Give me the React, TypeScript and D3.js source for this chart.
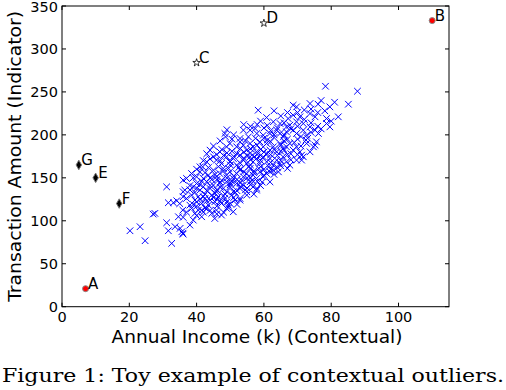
import React from 'react';
import * as d3 from 'd3';

const xTicks = [0, 20, 40, 60, 80, 100];
const yTicks = [0, 50, 100, 150, 200, 250, 300, 350];

const outlierNames = ['A', 'B', 'C', 'D', 'E', 'F', 'G'];
const outlierX = [7, 110, 40, 60, 10, 17, 5];
const outlierY = [21, 333, 284, 330, 150, 120, 165];
const outlierKind = ['circle', 'circle', 'star', 'star', 'diamond', 'diamond', 'diamond'];

const clusterPoints: [number, number][] = [
  [78.3, 256.6], [58.3, 228.7], [63.0, 228.0], [68.7, 234.5], [69.7, 232.6], [73.7, 236.5], [76.1, 235.7], [79.6, 232.6], [85.1, 235.7], [78.1, 228.0], [87.8, 250.8],
  [60.8, 220.2], [62.8, 215.2], [64.8, 213.2], [67.2, 219.0], [68.7, 222.9], [69.7, 215.2], [70.7, 221.0], [71.7, 213.2], [73.7, 224.8], [75.2, 221.0], [78.6, 219.0], [78.6, 213.2], [82.1, 221.0], [66.7, 209.3], [67.7, 211.3],
  [48.4, 201.6], [48.6, 197.7], [53.9, 205.5], [55.9, 205.5], [57.4, 207.4], [57.9, 201.6], [59.8, 199.6], [61.8, 201.6], [63.8, 205.5], [64.8, 201.6], [65.8, 197.7], [66.7, 203.5], [68.7, 205.5], [69.7, 201.6], [71.7, 205.5], [72.7, 199.6], [73.7, 209.3], [75.2, 205.5], [79.6, 209.3], [75.6, 191.9], [52.9, 195.8], [55.4, 197.7], [76.2, 201.6],
  [44.0, 182.2], [46.9, 180.3], [48.9, 186.1], [49.9, 190.0], [51.9, 186.1], [52.9, 191.9], [53.9, 188.0], [54.9, 182.2], [55.9, 190.0], [56.8, 186.1], [57.8, 180.3], [58.8, 191.9], [59.8, 186.1], [60.8, 190.0], [61.8, 182.2], [62.8, 186.1], [63.8, 180.3], [64.8, 190.0], [65.7, 184.1], [66.7, 186.1], [67.7, 190.0], [68.7, 182.2], [69.7, 186.1], [70.7, 180.3], [71.7, 174.5], [74.7, 186.1], [72.7, 190.0], [73.7, 180.3], [45.0, 174.5], [75.2, 188.0], [71.2, 176.4],
  [41.0, 162.8], [43.0, 168.6], [45.9, 170.6], [47.4, 166.7], [48.9, 174.5], [49.9, 168.6], [50.9, 172.5], [51.9, 164.8], [52.9, 176.4], [53.9, 170.6], [54.9, 166.7], [55.9, 174.5], [56.8, 168.6], [57.8, 172.5], [58.8, 166.7], [59.8, 174.5], [60.8, 168.6], [61.8, 172.5], [62.8, 164.8], [63.8, 170.6], [64.8, 166.7], [65.7, 174.5], [66.7, 168.6], [67.7, 164.8], [69.7, 170.6], [71.2, 170.6], [62.8, 158.9], [64.3, 157.0], [61.8, 157.0], [41.8, 162.8],
  [38.5, 155.0], [40.0, 151.2], [41.0, 157.0], [42.0, 149.3], [43.5, 153.1], [45.0, 158.9], [45.9, 151.2], [46.9, 155.0], [47.9, 160.9], [48.9, 153.1], [49.9, 157.0], [50.9, 149.3], [51.9, 155.0], [52.9, 158.9], [53.9, 151.2], [54.9, 155.0], [55.9, 160.9], [56.8, 153.1], [57.8, 149.3], [58.8, 157.0], [59.8, 151.2], [60.8, 155.0], [36.0, 147.3], [37.0, 149.3], [61.8, 145.3],
  [36.5, 135.7], [36.0, 133.8], [39.0, 139.6], [40.0, 143.4], [41.0, 135.7], [42.0, 139.6], [43.0, 145.4], [44.0, 137.6], [45.0, 141.5], [45.9, 133.8], [46.9, 143.4], [47.9, 137.6], [48.9, 145.4], [49.9, 139.6], [50.9, 133.8], [51.9, 143.4], [52.9, 137.6], [53.9, 141.5], [54.9, 133.8], [55.9, 145.4], [56.8, 139.6], [57.8, 135.7], [31.1, 139.5], [57.9, 137.7],
  [31.6, 121.0], [34.1, 123.3], [38.5, 129.9], [39.5, 124.1], [40.5, 127.9], [41.5, 120.2], [42.5, 126.0], [43.5, 118.2], [44.5, 129.9], [45.4, 122.1], [46.4, 127.9], [47.4, 120.2], [48.4, 126.0], [49.4, 118.2], [50.4, 129.9], [51.4, 124.1], [52.9, 126.0], [54.9, 129.9], [38.0, 118.2], [33.1, 121.0], [52.9, 124.0],
  [27.1, 107.8], [34.6, 104.7], [38.5, 114.4], [39.5, 108.6], [40.5, 112.4], [41.5, 104.7], [43.0, 114.4], [44.5, 108.6], [45.9, 112.4], [47.4, 106.6], [48.9, 114.4], [50.9, 110.5], [45.4, 102.7], [27.6, 108.6], [35.9, 112.4], [41.5, 112.4],
  [31.1, 97.7], [31.6, 88.4], [33.6, 93.1], [35.6, 87.2], [38.0, 95.0], [39.0, 100.8], [20.2, 88.4], [23.2, 93.1], [24.7, 76.8], [32.6, 73.7], [36.0, 84.5], [35.1, 91.2], [35.9, 85.3],
  [47.5, 183], [50.5, 181], [53, 184], [56, 179], [59, 183], [62, 177], [65, 181], [68, 178],
  [46, 177], [49, 179], [52, 178], [55, 176], [58, 177], [61, 178], [64, 176], [67, 177], [70, 177],
  [43.5, 162], [46.5, 163], [49.5, 161], [52.5, 162], [55.5, 163], [58.5, 161], [61.5, 163], [64, 162], [67, 161],
  [41.5, 146], [44.5, 148], [47.5, 147], [50.5, 146], [53.5, 147], [56.5, 147], [59.5, 145],
  [39.5, 133], [42.5, 131], [45.5, 132], [48.5, 131], [51.5, 133], [54.5, 136], [57, 131],
  [40, 117], [42.5, 115], [46, 117], [49.5, 115], [52, 119],
  [50.5, 195], [54.5, 193], [57.5, 196], [61, 194], [63, 197], [66, 193], [70, 195], [72.5, 194],
  [44, 172], [47, 170], [50, 169], [53, 167], [56, 171], [59, 170], [62, 168], [65, 170], [68, 171],
  [42.5, 156], [45.5, 154], [48, 158], [51, 152], [54, 157], [57, 156], [60, 153], [63, 154],
  [38, 141], [41, 142], [44, 141], [47, 139], [50, 142], [53, 140], [56, 142], [59, 141],
  [37, 126], [40, 122], [43, 123], [46, 125], [49, 122], [51, 127],
  [58, 212], [60, 208], [62, 205], [64, 208], [66, 214], [68, 207], [70, 210], [72, 218], [74, 214], [76, 210],
  [60, 196], [62, 192], [65, 188], [67, 195], [69, 191], [71, 187], [73, 196], [58, 188], [56, 184], [54, 180],
  [66, 182], [63, 183], [60, 180], [57, 174], [59, 176], [54, 173], [51, 175], [48, 176], [50, 165], [53, 160],
  [56, 165], [59, 163], [62, 160], [65, 164], [60, 160], [57, 158], [55, 150], [52, 148], [49, 150], [46, 148],
  [44, 150], [47, 145], [50, 144], [53, 144], [56, 150], [58, 146], [43, 135], [46, 136], [49, 134], [52, 135],
  [55, 138], [42, 128], [45, 127], [48, 129], [44, 124], [47, 123], [50, 120], [41, 125], [39, 119], [42, 110],
  [44, 112], [46, 108], [48, 110], [37, 110], [36, 104], [40, 106], [35, 120], [36, 128], [38, 136], [40, 138],
  [66, 200], [63, 200], [61, 211], [70, 226], [72, 229], [65, 222], [67, 226], [71, 198], [74, 203], [77, 207],
  [80, 216], [76, 226], [74, 230], [77, 240], [81, 238], [59, 216], [56, 210], [54, 212], [51, 200], [49, 206],
  [47, 193], [45, 187], [43, 178], [42, 170], [40, 160], [39, 150],
];

const W = 506;
const H = 390;
const margin = { left: 62, right: 57, top: 6, bottom: 83.3 };

export default function App() {
  const x = d3.scaleLinear().domain([0, 115]).range([margin.left, W - margin.right]);
  const y = d3.scaleLinear().domain([0, 350]).range([H - margin.bottom, margin.top]);
  const x0 = x.range()[0], x1 = x.range()[1];
  const y0 = y.range()[0], y1 = y.range()[1];
  const tickLen = 4;
  const sans = 'DejaVu Sans, sans-serif';
  const star = d3.symbol().type(d3.symbolStar).size(18)() as string;
  const diamond = d3.symbol().type(d3.symbolDiamond).size(26)() as string;
  const cross = 'M-3.3,-3.3L3.3,3.3M-3.3,3.3L3.3,-3.3';

  return (
    <svg width={W} height={H} style={{ position: 'absolute', left: 0, top: 0, background: '#fff' }}>
      <rect x={0} y={0} width={W} height={H} fill="#fff" />
      {clusterPoints.map((p, i) => (
        <path key={'c' + i} d={cross} transform={`translate(${x(p[0])},${y(p[1])})`} stroke="#0000ff" strokeWidth={1} fill="none" />
      ))}
      {outlierNames.map((n, i) => {
        const px = x(outlierX[i]);
        const py = y(outlierY[i]);
        const k = outlierKind[i];
        return (
          <g key={n}>
            {k === 'circle' && <circle cx={px} cy={py} r={3} fill="#ff0000" stroke="#888" strokeWidth={1} />}
            {k === 'star' && <path d={star} transform={`translate(${px},${py})`} fill="#fff" stroke="#000" strokeWidth={0.8} />}
            {k === 'diamond' && <path d={diamond} transform={`translate(${px},${py})`} fill="#000" stroke="#777" strokeWidth={1} />}
            <text x={px + 2.5} y={py} fontFamily={sans} fontSize={15} fill="#000">{n}</text>
          </g>
        );
      })}
      <rect x={x0} y={y1} width={x1 - x0} height={y0 - y1} fill="none" stroke="#000" strokeWidth={1} />
      {xTicks.map((t) => (
        <g key={'xt' + t}>
          <line x1={x(t)} x2={x(t)} y1={y0} y2={y0 - tickLen} stroke="#000" />
          <line x1={x(t)} x2={x(t)} y1={y1} y2={y1 + tickLen} stroke="#000" />
          <text x={x(t)} y={y0 + 15.5} textAnchor="middle" fontFamily={sans} fontSize={14.5} fill="#000">{t}</text>
        </g>
      ))}
      {yTicks.map((t) => (
        <g key={'yt' + t}>
          <line x1={x0} x2={x0 + tickLen} y1={y(t)} y2={y(t)} stroke="#000" />
          <line x1={x1} x2={x1 - tickLen} y1={y(t)} y2={y(t)} stroke="#000" />
          <text x={x0 - 4} y={y(t) + 5.5} textAnchor="end" fontFamily={sans} fontSize={14.5} fill="#000">{t}</text>
        </g>
      ))}
      <text x={257} y={343} textAnchor="middle" fontFamily={sans} fontSize={17.5} textLength={291} lengthAdjust="spacingAndGlyphs" fill="#000">Annual Income (k) (Contextual)</text>
      <text transform={`translate(20.5,${(y0 + y1) / 2}) rotate(-90)`} textAnchor="middle" fontFamily={sans} fontSize={17.5} textLength={291} lengthAdjust="spacingAndGlyphs" fill="#000">Transaction Amount (Indicator)</text>
      <text x={2} y={382} fontFamily="DejaVu Serif, serif" fontSize={19} textLength={502} lengthAdjust="spacingAndGlyphs" fill="#000">Figure 1: Toy example of contextual outliers.</text>
    </svg>
  );
}
